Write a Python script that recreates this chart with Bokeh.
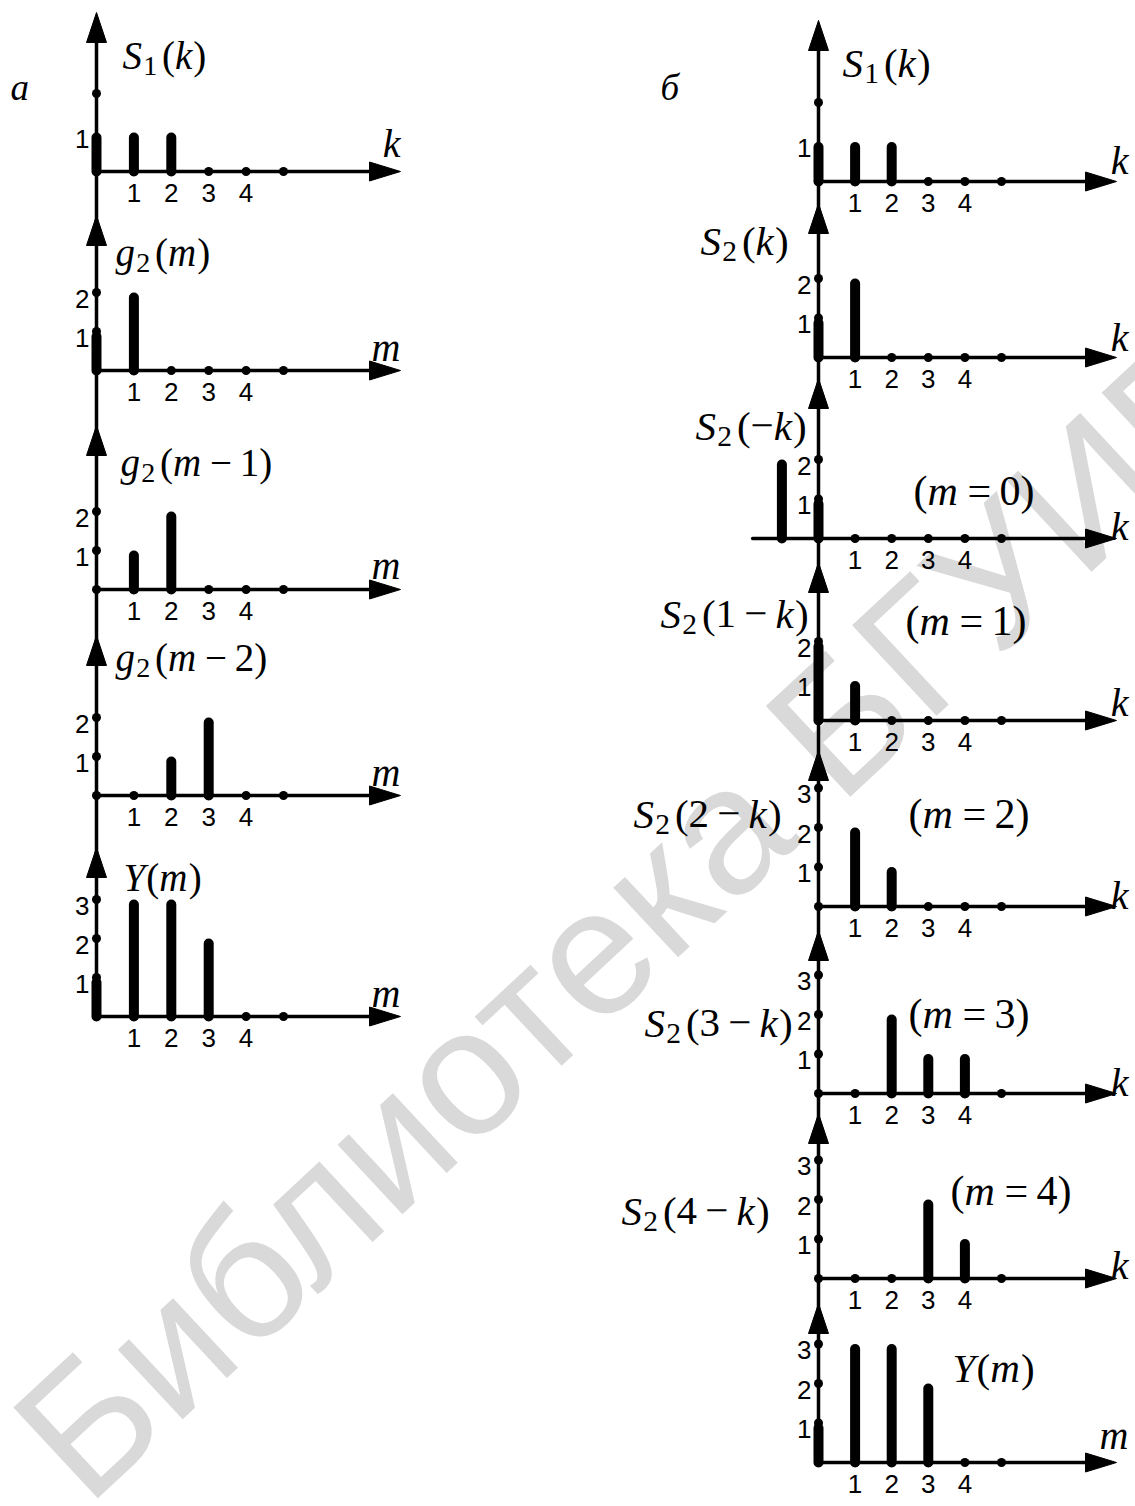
from bokeh.plotting import figure
from bokeh.models import Range1d
from bokeh.embed import file_html
from bokeh.resources import INLINE
from bokeh.core.properties import value

W, H = 1135, 1506

# ---- sequences (index = argument value, starting at 0) ----
tick_labels = ["1", "2", "3", "4"]
s1 = [1, 1, 1, 0, 0]            # S1(k)
g2 = [1, 2, 0, 0, 0]            # g2(m) = S2(k)
g2_m1 = [0, 1, 2, 0, 0]         # g2(m-1)
g2_m2 = [0, 0, 1, 2, 0]         # g2(m-2)
y_conv = [1, 3, 3, 2, 0]        # Y(m)
s2_neg_args = [-1, 0]           # S2(-k) lives at k = -1, 0
s2_neg = [2, 1]
s2_1mk = [2, 1, 0, 0, 0]        # S2(1-k)
s2_2mk = [0, 2, 1, 0, 0]        # S2(2-k)
s2_3mk = [0, 0, 2, 1, 1]        # S2(3-k)
s2_4mk = [0, 0, 0, 2, 1]        # S2(4-k)

SERIF = "'Liberation Serif', 'Times New Roman', serif"
SANS = "'Liberation Sans', Arial, sans-serif"
INK = "black"


def Y(py):
    """page row (from top) -> data y"""
    return H - py


p = figure(width=W, height=H, x_range=Range1d(0, W), y_range=Range1d(0, H),
           output_backend="svg", toolbar_location=None,
           x_axis_location=None, y_axis_location=None, min_border=0,
           background_fill_color="white", border_fill_color="white",
           outline_line_color=None)
p.grid.visible = False

# library stamp across the page
p.text(x=[44], y=[Y(1462)], text=["Библиотека БГУИР"], angle=43, angle_units="deg",
       text_font=value(SANS), text_font_size="180px", text_color="#d9d9d9",
       text_align="left", text_baseline="middle")

# ---- math-label typesetting ----
W_ROMAN = {"(": 0.333, ")": 0.333, "−": 0.564, "=": 0.564}
W_ROMAN.update({d: 0.5 for d in "0123456789"})
W_ITALIC = {"S": 0.5, "k": 0.444, "m": 0.722, "g": 0.5, "Y": 0.556}

math_runs = {"i": ([], [], [], []), "r": ([], [], [], []), "s": ([], [], [], [])}


def formula(tokens, x, base_py, size):
    sub = 0.72 * size
    for tok, kind in tokens:
        if kind == "op":
            x += 0.2 * size
            bucket, fs, py, adv = "r", size, base_py, W_ROMAN[tok] * size
        elif kind == "s":
            bucket, fs, py, adv = "s", sub, base_py + 0.28 * size, W_ROMAN[tok] * sub
        elif kind == "i":
            bucket, fs, py, adv = "i", size, base_py, W_ITALIC[tok] * size
        else:
            bucket, fs, py, adv = "r", size, base_py, W_ROMAN[tok] * size
        xs, ys, ts, ss = math_runs[bucket]
        xs.append(x); ys.append(Y(py)); ts.append(tok); ss.append(f"{fs:.1f}px")
        x += adv
        if kind == "op":
            x += 0.2 * size
        if kind == "s":
            x += 0.12 * size
        if kind == "i":
            x += 0.03 * size


def fn(name, sub, arg):
    toks = [(name, "i"), (sub, "s"), ("(", "r")]
    for i, tok in enumerate(arg):
        if tok == "−":
            # binary minus gets spacing, a leading (unary) one does not
            toks.append((tok, "op" if i > 0 else "r"))
        elif tok in "km":
            toks.append((tok, "i"))
        else:
            toks.append((tok, "r"))
    toks.append((")", "r"))
    return toks


def meq(n):
    return [("(", "r"), ("m", "i"), ("=", "op"), (str(n), "r"), (")", "r")]


Y_TOKENS = [("Y", "i"), ("(", "r"), ("m", "i"), (")", "r")]

# ---- panel layout ----
columns = [
    dict(x0=96, ux=37.4, uy=39.0, top=12, axis_end=400, var_x=400, fsize=39,
         panels=[
             dict(args=range(5), vals=s1, base=171, arrow=12, ydots=[2], ylab=[1],
                  label=(fn("S", "1", "k"), 122, 55), var=("k", 143)),
             dict(args=range(5), vals=g2, base=370, arrow=215, ydots=[1, 2], ylab=[1, 2],
                  label=(fn("g", "2", "m"), 115, 252), var=("m", 347)),
             dict(args=range(5), vals=g2_m1, base=589, arrow=425, ydots=[1, 2], ylab=[1, 2],
                  label=(fn("g", "2", ["m", "−", "1"]), 120, 462), var=("m", 565)),
             dict(args=range(5), vals=g2_m2, base=795, arrow=635, ydots=[1, 2], ylab=[1, 2],
                  label=(fn("g", "2", ["m", "−", "2"]), 115, 657), var=("m", 772)),
             dict(args=range(5), vals=y_conv, base=1016, arrow=847, ydots=[1, 2, 3], ylab=[1, 2, 3],
                  label=(Y_TOKENS, 123, 877), var=("m", 993)),
         ]),
    dict(x0=818, ux=36.6, uy=39.5, top=20, axis_end=1116, var_x=1128, fsize=41,
         panels=[
             dict(args=range(5), vals=s1, base=181, arrow=20, ydots=[2], ylab=[1],
                  label=(fn("S", "1", "k"), 842, 62), var=("k", 160)),
             dict(args=range(5), vals=g2, base=357, arrow=203, ydots=[1, 2], ylab=[1, 2],
                  label=(fn("S", "2", "k"), 700, 240), var=("k", 337)),
             dict(args=s2_neg_args, vals=s2_neg, base=538, arrow=378, ydots=[1, 2], ylab=[1, 2],
                  label=(fn("S", "2", ["−", "k"]), 695, 425), var=("k", 526),
                  note=(meq(0), 913, 490), left_ext=1.8),
             dict(args=range(5), vals=s2_1mk, base=720, arrow=562, ydots=[1, 2], ylab=[1, 2],
                  label=(fn("S", "2", ["1", "−", "k"]), 660, 613), var=("k", 702),
                  note=(meq(1), 905, 620)),
             dict(args=range(5), vals=s2_2mk, base=906, arrow=750, ydots=[1, 2, 3], ylab=[1, 2, 3],
                  label=(fn("S", "2", ["2", "−", "k"]), 633, 813), var=("k", 895),
                  note=(meq(2), 908, 813)),
             dict(args=range(5), vals=s2_3mk, base=1093, arrow=930, ydots=[1, 2, 3], ylab=[1, 2, 3],
                  label=(fn("S", "2", ["3", "−", "k"]), 644, 1022), var=("k", 1082),
                  note=(meq(3), 908, 1013)),
             dict(args=range(5), vals=s2_4mk, base=1278, arrow=1113, ydots=[1, 2, 3], ylab=[1, 2, 3],
                  label=(fn("S", "2", ["4", "−", "k"]), 621, 1210), var=("k", 1265),
                  note=(meq(4), 950, 1190)),
             dict(args=range(5), vals=y_conv, base=1462, arrow=1303, ydots=[1, 2, 3], ylab=[1, 2, 3],
                  label=(Y_TOKENS, 952, 1367), var=("m", 1435)),
         ]),
]

AX_W = 3.5
BAR_W = 10
HEAD_L, HEAD_HW = 30, 10      # vertical arrowheads
HHEAD_L, HHEAD_HW = 31, 9.5   # horizontal arrowheads

for col in columns:
    x0, ux, uy = col["x0"], col["ux"], col["uy"]
    last_base = col["panels"][-1]["base"]
    # common vertical axis
    p.line([x0, x0], [Y(col["top"] + 10), Y(last_base)], line_color=INK, line_width=AX_W)

    for pn in col["panels"]:
        base = pn["base"]
        # vertical arrowhead
        t = pn["arrow"]
        p.patch([x0, x0 - HEAD_HW, x0 + HEAD_HW], [Y(t), Y(t + HEAD_L), Y(t + HEAD_L)],
                fill_color=INK, line_color=INK, line_width=1)
        # horizontal axis with arrowhead
        x_start = x0 - pn.get("left_ext", 0) * ux
        tip = col["axis_end"]
        p.line([x_start, tip - HHEAD_L + 2], [Y(base), Y(base)], line_color=INK,
               line_width=AX_W, line_cap="round")
        p.patch([tip, tip - HHEAD_L, tip - HHEAD_L], [Y(base), Y(base - HHEAD_HW), Y(base + HHEAD_HW)],
                fill_color=INK, line_color=INK, line_width=1)

        # grid dots on both axes
        dx = [x0 + i * ux for i in range(6)] + [x0] * len(pn["ydots"])
        dy = [Y(base)] * 6 + [Y(base) + lv * uy for lv in pn["ydots"]]
        p.scatter(dx, dy, size=9, marker="circle", fill_color=INK, line_color=None)

        # sample bars
        bx, by0, by1 = [], [], []
        for a, v in zip(pn["args"], pn["vals"]):
            if v:
                bx.append(x0 + a * ux)
                by0.append(Y(base))
                by1.append(Y(base) + v * uy - BAR_W / 2)
        p.segment(x0=bx, y0=by0, x1=bx, y1=by1, line_color=INK, line_width=BAR_W,
                  line_cap="round")

        # tick labels
        p.text(x=[x0 + (i + 1) * ux for i in range(len(tick_labels))],
               y=[Y(base + 21)] * len(tick_labels), text=tick_labels,
               text_font=value(SANS), text_font_size="26px", text_color=INK,
               text_align="center", text_baseline="middle")
        p.text(x=[x0 - 7] * len(pn["ylab"]), y=[Y(base) + lv * uy - 6 for lv in pn["ylab"]],
               text=[str(lv) for lv in pn["ylab"]],
               text_font=value(SANS), text_font_size="26px", text_color=INK,
               text_align="right", text_baseline="middle")

        # axis variable name
        var, vpy = pn["var"]
        p.text(x=[col["var_x"]], y=[Y(vpy)], text=[var], text_font=value(SERIF),
               text_font_style="italic", text_font_size="40px", text_color=INK,
               text_align="right", text_baseline="alphabetic")

        toks, lx, ly = pn["label"]
        formula(toks, lx, ly, col["fsize"])
        if "note" in pn:
            toks, lx, ly = pn["note"]
            formula(toks, lx, ly, 42)

# part letters
p.text(x=[10, 660], y=[Y(87), Y(87)], text=["a", "б"], text_font=value(SERIF),
       text_font_style="italic", text_font_size="37px", text_color=INK,
       text_align="left", text_baseline="alphabetic")

for kind, (xs, ys, ts, ss) in math_runs.items():
    p.text(x=xs, y=ys, text=ts, text_font=value(SERIF),
           text_font_style="italic" if kind == "i" else "normal",
           text_font_size=ss, text_color=INK, text_align="left",
           text_baseline="alphabetic")

open("out.html", "w").write(file_html(p, INLINE))
